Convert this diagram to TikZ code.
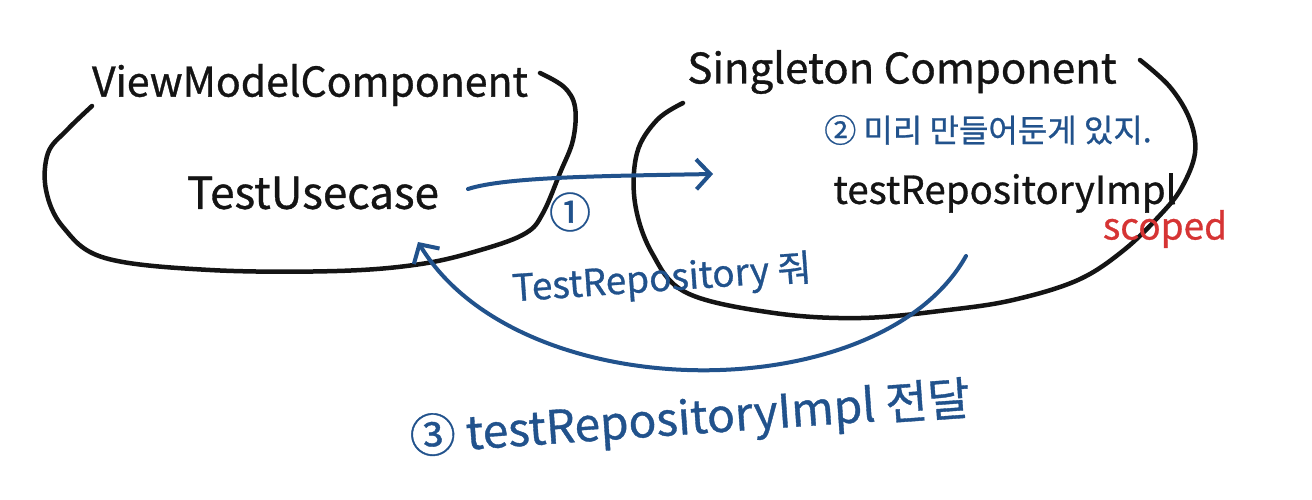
\documentclass[tikz,border=0pt]{standalone}
\usepackage{fontspec}
\setmainfont{Noto Sans CJK KR}[FakeBold=0.8]
\usetikzlibrary{arrows.meta}
\definecolor{ink}{RGB}{20,20,20}
\definecolor{blueink}{RGB}{33,82,140}
\definecolor{redink}{RGB}{214,52,52}
\tikzset{
  blackline/.style={draw=ink,line width=4.5pt,line cap=round,line join=round},
  blueline/.style={draw=blueink,line width=4pt,line cap=round,line join=round},
  barb/.style={-{Straight Barb[length=14pt,width=30pt,line width=4pt]}},
  lbl/.style={inner sep=0pt,text=ink},
  bluelbl/.style={inner sep=0pt,text=blueink},
}
\begin{document}
\begin{tikzpicture}[x=1pt,y=-1pt]
\useasboundingbox[fill=white] (0,0) rectangle (1312,500);
% left component outline
\draw[blackline] plot[smooth,tension=0.6] coordinates {(540,73) (564,87) (575,107) (573,140) (560,173) (543,213) (526,233) (484,249) (421,264) (337,271) (210,270) (105,258) (63,227) (46,190) (48,153) (67,130) (92,106)};
% right component outline
\draw[blackline] plot[smooth,tension=0.6] coordinates {(1140,60) (1170,87) (1190,120) (1195,153) (1182,187) (1162,213) (1124,250) (1078,280) (1013,300) (948,310) (861,318) (774,313) (687,293) (652,253) (635,203) (637,153) (657,120) (683,103)};

\node[lbl,font=\fontsize{41}{48}\selectfont] (vmc) at (310,85) {ViewModelComponent};
\node[lbl,font=\fontsize{44}{50}\selectfont] (tu) at (313,193) {TestUsecase};
\node[lbl,font=\fontsize{42}{48}\selectfont] (sc) at (902,72) {Singleton Component};
\node[bluelbl,font=\fontsize{32}{38}\selectfont] (note2) at (988,130) {② 미리 만들어둔게 있지.};
\node[lbl,font=\fontsize{38.5}{44}\selectfont] (tri) at (1005,193) {testRepositoryImpl};
\node[inner sep=0pt,text=redink,font=\fontsize{37}{42}\selectfont] (scoped) at (1165,229) {scoped};
\node[bluelbl,font=\fontsize{42}{48}\selectfont] (one) at (570,212) {①};
\node[bluelbl,font=\fontsize{37}{42}\selectfont,rotate=4] (lbl1) at (662,280) {TestRepository 줘};
\node[bluelbl,font=\fontsize{46}{52}\selectfont,rotate=4] (lbl3) at (690,420) {③ testRepositoryImpl 전달};

\coordinate (a1s) at (468,189);
\coordinate (a1e) at (713,174);
\coordinate (a3s) at (966,256);
\coordinate (a3e) at (418,242);
\draw[blueline,barb] (a1s) .. controls (505,177) and (600,176) .. (a1e);
\draw[blueline,barb] (a3s) .. controls (880,410) and (520,410) .. (a3e);
\end{tikzpicture}
\end{document}
